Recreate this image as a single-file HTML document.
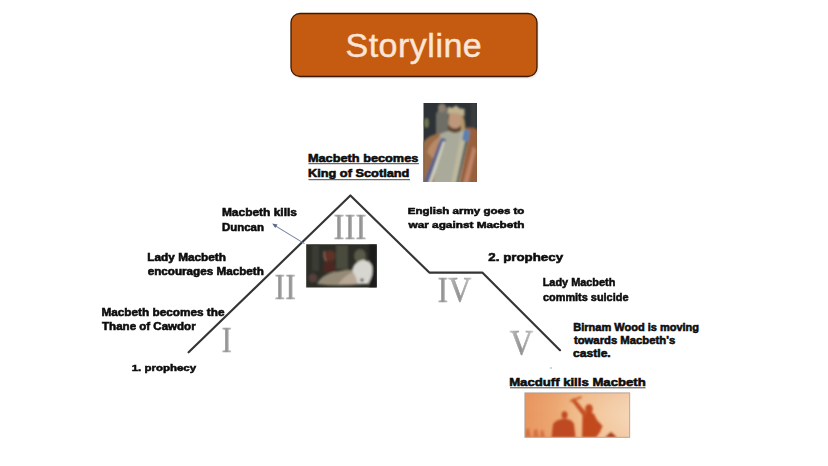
<!DOCTYPE html>
<html><head><meta charset="utf-8">
<style>
html,body{margin:0;padding:0;background:#fff;}
body{width:828px;height:466px;overflow:hidden;position:relative;font-family:"Liberation Sans",sans-serif;}
svg{position:absolute;left:0;top:0;}
</style></head>
<body>
<svg width="828" height="466" viewBox="0 0 828 466">
<defs>
<linearGradient id="rom" x1="0" y1="0" x2="1" y2="0">
<stop offset="0" stop-color="#c4c4c4"/><stop offset="0.45" stop-color="#929292"/><stop offset="1" stop-color="#c8c8c8"/>
</linearGradient>
<filter id="nb" x="-20%" y="-20%" width="140%" height="140%"><feGaussianBlur stdDeviation="0.6"/></filter>
<filter id="sh" x="-10%" y="-10%" width="120%" height="130%"><feGaussianBlur stdDeviation="1.2"/></filter>
</defs>
<!-- title box -->
<rect x="292" y="15" width="246" height="63" rx="9" fill="#bbb" opacity="0.5" filter="url(#sh)"/>
<rect x="291" y="13.5" width="246" height="63" rx="9" fill="#C55A11" stroke="#3e1a02" stroke-width="1.3"/>
<text x="345.5" y="56.6" font-family="Liberation Sans" font-size="34" letter-spacing="0.5" fill="#FBE5D6" stroke="#FBE5D6" stroke-width="0.45">Storyline</text>

<!-- mountain -->
<polyline points="188.6,352.3 350.4,195.5 429.3,272.6 482.3,272.6 560,350.2" fill="none" stroke="#353535" stroke-width="2.15" stroke-linejoin="round" stroke-linecap="round"/>

<!-- numerals -->
<g font-family="Liberation Serif" fill="url(#rom)" stroke="url(#rom)" stroke-width="0.6" filter="url(#nb)">
<text transform="translate(221.50,351.50) scale(0.851,1)" font-size="36.79">I</text>
<text transform="translate(274.48,298.50) scale(0.877,1)" font-size="36.49">I</text>
<text transform="translate(285.14,298.50) scale(0.877,1)" font-size="36.49">I</text>
<text transform="translate(333.44,238.90) scale(0.911,1)" font-size="36.34">I</text>
<text transform="translate(344.47,238.90) scale(0.911,1)" font-size="36.34">I</text>
<text transform="translate(355.50,238.90) scale(0.911,1)" font-size="36.34">I</text>
<text transform="translate(437.58,302.40) scale(0.894,1)" font-size="35.88">I</text>
<text transform="translate(448.26,302.40) scale(0.894,1)" font-size="35.88">V</text>
<text transform="translate(509.77,354.70) scale(0.896,1)" font-size="36.34">V</text>
</g>

<!-- labels -->
<g font-family="Liberation Sans" font-weight="bold" fill="#0d0d0d" stroke="#0d0d0d" stroke-width="0.55">
<text transform="translate(307.92,161.60) scale(1.198,1)" font-size="10.64">Macbeth becomes</text>
<text transform="translate(307.92,177.40) scale(1.202,1)" font-size="10.64">King of Scotland</text>
<text transform="translate(221.92,216.30) scale(1.143,1)" font-size="10.46">Macbeth kills</text>
<text transform="translate(221.95,231.00) scale(1.097,1)" font-size="10.46">Duncan</text>
<text transform="translate(147.33,261.00) scale(1.155,1)" font-size="10.22">Lady Macbeth</text>
<text transform="translate(147.63,275.20) scale(1.145,1)" font-size="10.22">encourages Macbeth</text>
<text transform="translate(101.43,315.70) scale(1.132,1)" font-size="10.42">Macbeth becomes the</text>
<text transform="translate(102.08,330.20) scale(1.108,1)" font-size="10.42">Thane of Cawdor</text>
<text transform="translate(131.65,371.10) scale(1.150,1)" font-size="9.98">1. prophecy</text>
<text transform="translate(407.75,213.50) scale(1.206,1)" font-size="9.57">English army goes to</text>
<text transform="translate(408.50,227.70) scale(1.234,1)" font-size="9.57">war against Macbeth</text>
<text transform="translate(488.33,261.00) scale(1.200,1)" font-size="11.10">2. prophecy</text>
<text transform="translate(542.69,286.40) scale(0.979,1)" font-size="11.14">Lady Macbeth</text>
<text transform="translate(542.96,301.00) scale(0.981,1)" font-size="11.14">commits suicide</text>
<text transform="translate(573.28,330.70) scale(1.076,1)" font-size="10.24">Birnam Wood is moving</text>
<text transform="translate(573.89,343.80) scale(1.105,1)" font-size="10.24">towards Macbeth&#39;s</text>
<text transform="translate(573.12,357.00) scale(1.180,1)" font-size="10.24">castle.</text>
<text transform="translate(509.15,386.00) scale(1.200,1)" font-size="10.96">Macduff kills Macbeth</text>
</g>
<!-- underlines -->
<g stroke="#444" stroke-width="1">
<line x1="308.5" y1="163.7" x2="419" y2="163.7"/>
<line x1="308.5" y1="179.7" x2="410" y2="179.7"/>
<line x1="510" y1="387.8" x2="645.5" y2="387.8"/>
</g>

<!-- arrow -->
<line x1="275" y1="225.6" x2="304.5" y2="243.6" stroke="#7484a4" stroke-width="1.1"/>
<path d="M272.2,223.6 L277.6,224.4 L275.2,228 Z" fill="#56688e"/>

<!-- image 1 king -->
<defs>
<clipPath id="c1"><rect x="423.5" y="103" width="53.5" height="79"/></clipPath>
<clipPath id="c2"><rect x="306.2" y="244.2" width="70.6" height="43.2"/></clipPath>
<clipPath id="c3"><rect x="524.9" y="392.9" width="104.8" height="44.4"/></clipPath>
<filter id="bl" x="-20%" y="-20%" width="140%" height="140%"><feGaussianBlur stdDeviation="1"/></filter>
<filter id="bl3" x="-20%" y="-20%" width="140%" height="140%"><feGaussianBlur stdDeviation="0.9"/></filter>
<filter id="bl2" x="-20%" y="-20%" width="140%" height="140%"><feGaussianBlur stdDeviation="0.7"/></filter>
<linearGradient id="g3" x1="0" y1="0" x2="1" y2="0">
<stop offset="0" stop-color="#e8945e"/><stop offset="0.3" stop-color="#eca873"/><stop offset="0.55" stop-color="#f2c294"/><stop offset="1" stop-color="#f5d6b6"/>
</linearGradient>
<linearGradient id="g3r" x1="0" y1="0" x2="0" y2="1">
<stop offset="0" stop-color="#e08a58" stop-opacity="0.15"/><stop offset="0.5" stop-color="#f0c090" stop-opacity="0"/><stop offset="1" stop-color="#e89060" stop-opacity="0.15"/>
</linearGradient>
</defs>
<g clip-path="url(#c1)">
<rect x="423.5" y="103" width="53.5" height="79" fill="#2c3236"/>
<g filter="url(#bl)">
<rect x="471" y="103" width="6" height="30" fill="#3a3e3e"/>
<ellipse cx="426.5" cy="123" rx="2.5" ry="5" fill="#6e7450"/>
<path d="M436,138 L436,114 Q441,104 448,108 L449,138 Z" fill="#6e6d66"/>
<ellipse cx="442" cy="108" rx="4" ry="4.5" fill="#8a7e70"/>
<path d="M423,184 L423,142 Q430,134 441,133 L447,136 L434,184 Z" fill="#9a6c46"/>
<path d="M427,152 Q432,140 440,137 L434,160 Z" fill="#b88a66"/>
<path d="M478,184 L478,130 Q471,126 464,128 L457,184 Z" fill="#98603e"/>
<path d="M476,150 L468,184 L463,184 L473,146 Z" fill="#c08466"/>
<path d="M440,134 Q452,129 463,130 L453,184 L433,184 Z" fill="#a9aa9a"/>
<path d="M424,182 L441,138 L446,139 L430,184 Z" fill="#56628e"/>
<path d="M428,184 L443,141 L445,142 L431,184 Z" fill="#d8d6c4"/>
<path d="M451,184 L462,129 L470,131 L459,184 Z" fill="#bdb89e"/>
<path d="M456,184 L466,138 L468,139 L458,184 Z" fill="#3e5258"/>
<path d="M464,129 L470,131 L468,142 L462,140 Z" fill="#5a80b0"/>
<path d="M448,126 L449,114 Q455,108 462,113 L462,127 Q455,132 448,126 Z" fill="#be987a"/>
<path d="M448,124 Q455,133 462,124 L462,130 Q455,136 448,130 Z" fill="#5e4636"/>
<path d="M461,114 Q466,118 465,130 L461,131 Z" fill="#b09468"/>
<path d="M447.5,112 L448.5,106.5 L452,108 L456,105.5 L460,108.5 L464.5,109 L464.5,116.5 Q456,111 447.5,114 Z" fill="#bfb28e"/>
</g>
</g>
<!-- image 2 duncan -->
<g clip-path="url(#c2)">
<rect x="306" y="244" width="71" height="44" fill="#2c2d26"/>
<g filter="url(#bl)">
<rect x="312" y="245" width="7" height="26" fill="#3a3d34"/>
<rect x="336" y="245" width="12" height="24" fill="#4a4c3c"/>
<ellipse cx="360" cy="256" rx="6" ry="7" fill="#5a5a48"/>
<rect x="369" y="244" width="8" height="44" fill="#1e1e1a"/>
<ellipse cx="330" cy="256" rx="5.5" ry="6" fill="#5e3028"/>
<path d="M324.5,251 Q323,256 326,261" stroke="#9a6a5a" stroke-width="1.4" fill="none"/>
<path d="M323,272 L324,263 Q329,259 334,262 L336,272 Z" fill="#4e2820"/>
<path d="M317,284 Q322,273 340,271 Q352,268 358,272 L362,284 Q340,287 317,284 Z" fill="#948a76"/>
<path d="M338,284 Q346,274 355,271 L362,284 Z" fill="#b8a898"/>
<path d="M352,270 Q354,262 362,260 Q369,259 372,266 Q374,274 368,284 L358,284 Q356,276 352,270 Z" fill="#d8d6d0"/>
<circle cx="362" cy="280" r="1.6" fill="#1e1e1a"/>
<ellipse cx="313" cy="278" rx="4.5" ry="4.5" fill="#54403c"/>
</g>
</g>
<!-- image 3 macduff -->
<g clip-path="url(#c3)">
<rect x="524.9" y="392.9" width="104.8" height="44.4" fill="url(#g3)"/>
<rect x="524.9" y="392.9" width="104.8" height="44.4" fill="url(#g3r)"/>
<g filter="url(#bl3)">
<ellipse cx="564.5" cy="415" rx="3" ry="3.8" fill="#c04a20"/>
<path d="M551.5,437.5 L553,424 Q556,420 562,419 L567,419 Q572,420 574,424 L575.5,437.5 Z" fill="#be4820"/>
<ellipse cx="589" cy="409" rx="3.8" ry="4.8" fill="#c44c20"/>
<path d="M582,437.5 L582.5,414 Q589,410 594,414 L597,420 L602.5,426 L600,432 L596,437.5 Z" fill="#c24a1e"/>
<path d="M584.5,418 L571,400 L574,398 L587.5,414 Z" fill="#c65022"/>
<path d="M569.5,400.5 L581,396 L582,397.8 L571,402.2 Z" fill="#cc6030"/>
<path d="M525,437.5 L526,429 L529,428 L531,437.5 Z M533,437.5 L534,430 L537,429 L539,437.5 Z M540,437.5 L541,430 L543,430 L545,437.5 Z" fill="#d47040"/>
<path d="M605,437.5 L611,432 L617,437.5 Z" fill="#a83a14"/>
</g>
</g>
<rect x="524.9" y="392.9" width="104.8" height="44.4" fill="none" stroke="#b09c8c" stroke-width="0.9"/>
<circle cx="551" cy="368" r="0.8" fill="#999"/>
</svg>
</body></html>
